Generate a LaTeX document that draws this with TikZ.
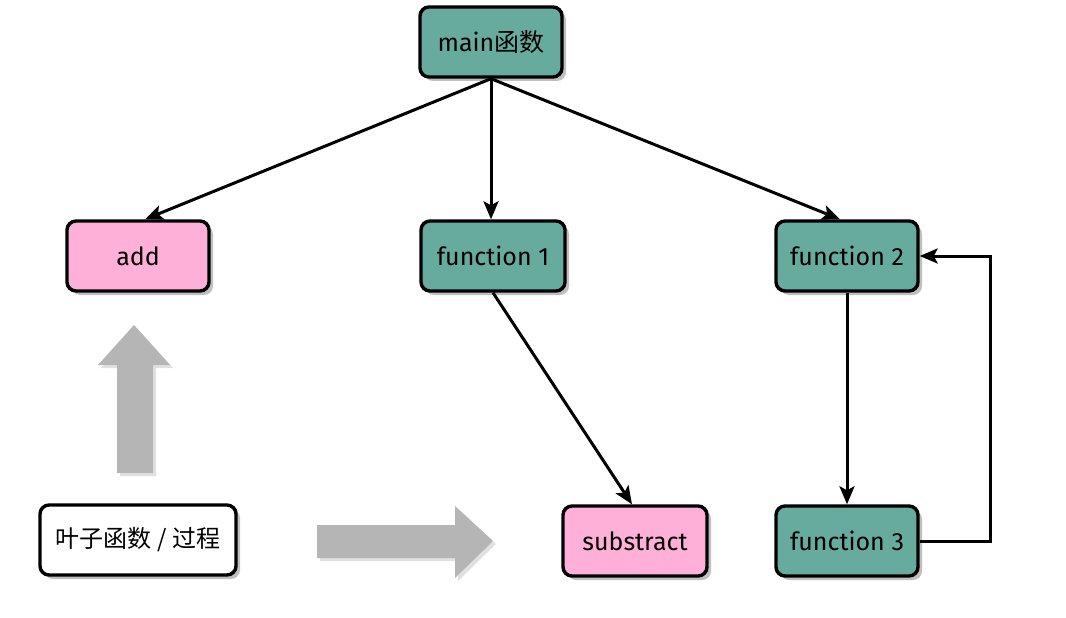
\documentclass[tikz,border=0pt]{standalone}
\usepackage{fontspec}
\setmainfont{Fira Sans}
\newfontfamily\cjk{Noto Sans CJK SC}
\usetikzlibrary{arrows.meta,shadows}
\definecolor{teal1}{HTML}{67AB9F}
\definecolor{pink1}{HTML}{FFB0D8}
\definecolor{arrgray}{HTML}{B5B5B5}
\tikzset{
  box/.style={draw=black, line width=3.4pt, rounded corners=9pt, minimum height=70pt,
    minimum width=142pt, font=\fontsize{25}{29}\selectfont, text=black,
    drop shadow={shadow xshift=4pt, shadow yshift=-4pt, fill=black, opacity=0.25}},
  tealbox/.style={box, fill=teal1},
  pinkbox/.style={box, fill=pink1},
  whitebox/.style={box, fill=white},
  conn/.style={line width=3pt, -{Stealth[length=18pt,width=15pt,inset=4pt]}},
  bigarrow/.style={fill=arrgray, draw=none,
    drop shadow={shadow xshift=3pt, shadow yshift=-3pt, fill=black, opacity=0.12}}
}
\begin{document}
\begin{tikzpicture}[x=1pt,y=-1pt]
\useasboundingbox (0,0) rectangle (1066,618);
\node[tealbox] (main) at (491,42) {main{\cjk 函数}};
\node[pinkbox] (add) at (138,256) {add};
\node[tealbox, minimum width=144pt] (f1) at (493,256) {function 1};
\node[tealbox] (f2) at (847,256) {function 2};
\node[whitebox, minimum width=196pt] (leaf) at (138,540) {\cjk\fontsize{24}{28}\selectfont 叶子函数 / 过程};
\node[pinkbox, minimum width=144pt] (sub) at (635,541) {substract};
\node[tealbox] (f3) at (847,541) {function 3};
\coordinate (turn1) at (990,541);
\coordinate (turn2) at (990,256);
% connectors
\draw[conn] (main.south) -- (add.north -| 145,0);
\draw[conn] (main.south) -- (main.south |- f1.north);
\draw[conn] (main.south) -- (f2.north -| 840,0);
\draw[conn] (f1.south) -- (sub.north -| 632,0);
\draw[conn] (f2.south) -- (f3.north);
\draw[conn] (f3.east) -- (turn1) -- (turn2) -- (f2.east);
% big gray arrows
\fill[bigarrow] (117,473) -- (117,365) -- (98,365) -- (134,325) -- (170,365) -- (153,365) -- (153,473) -- cycle;
\fill[bigarrow] (317,525) -- (455,525) -- (455,506) -- (493,541) -- (455,578) -- (455,558) -- (317,558) -- cycle;
\end{tikzpicture}
\end{document}
